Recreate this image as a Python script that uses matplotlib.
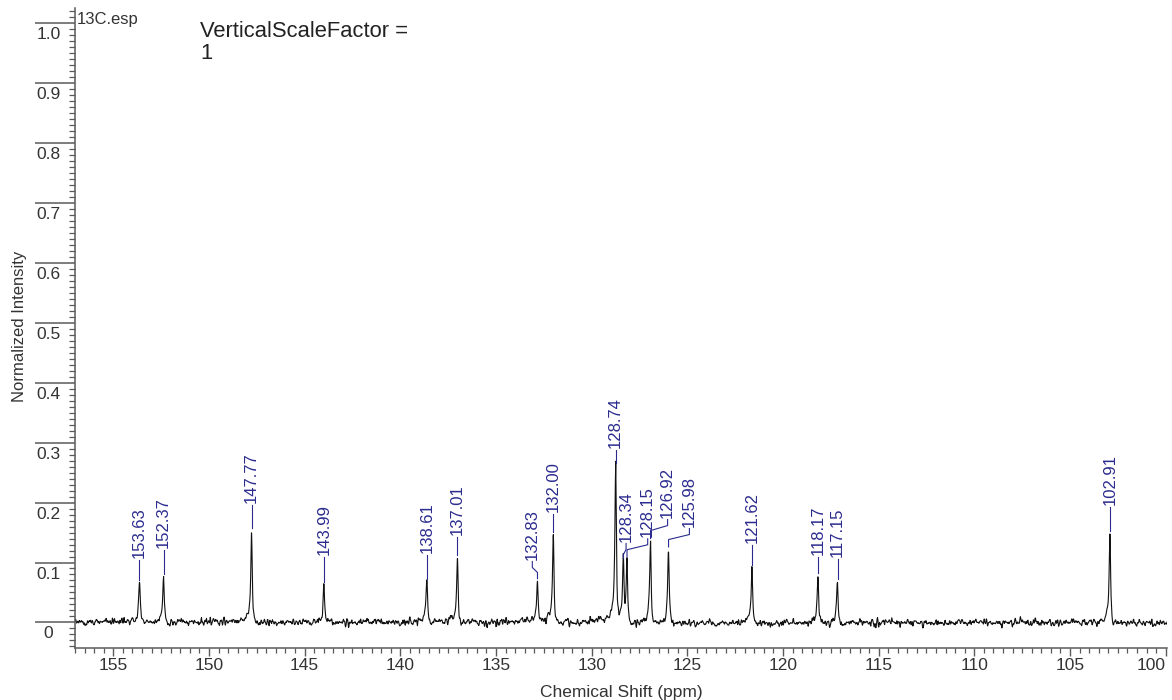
import numpy as np
import matplotlib
matplotlib.use("Agg")
import matplotlib.pyplot as plt
from matplotlib.ticker import FixedLocator, FixedFormatter, MultipleLocator, NullFormatter
from matplotlib.transforms import offset_copy

plt.rcParams['font.family'] = ['Liberation Sans', 'DejaVu Sans']

# 13C peak list: chemical shift (ppm) and normalized peak height
peak_ppm = [153.63, 152.37, 147.77, 143.99, 138.61, 137.01, 132.83, 132.00,
            128.74, 128.34, 128.15, 126.92, 125.98, 121.62, 118.17, 117.15, 102.91]
peak_height = [0.066, 0.076, 0.152, 0.063, 0.068, 0.108, 0.068, 0.146,
               0.261, 0.102, 0.105, 0.135, 0.121, 0.091, 0.077, 0.068, 0.148]
peak_labels = [f"{p:.2f}" for p in peak_ppm]

# where each peak annotation sits (ppm of the label, intensity of its lower end)
label_ppm = [153.63, 152.37, 147.77, 143.99, 138.61, 137.01, 133.10, 132.00,
             128.74, 128.20, 127.07, 126.03, 124.89, 121.62, 118.17, 117.15, 102.91]
label_base = [0.108, 0.125, 0.200, 0.113, 0.116, 0.146, 0.105, 0.185,
              0.291, 0.135, 0.143, 0.175, 0.160, 0.133, 0.113, 0.110, 0.196]

x_ticks = [155, 150, 145, 140, 135, 130, 125, 120, 115, 110, 105, 100]
x_tick_labels = [str(v) for v in x_ticks]
y_ticks = [0.0, 0.1, 0.2, 0.3, 0.4, 0.5, 0.6, 0.7, 0.8, 0.9, 1.0]
y_tick_labels = ['0', '0.1', '0.2', '0.3', '0.4', '0.5', '0.6', '0.7', '0.8', '0.9', '1.0']

XLIM = (157.0, 99.93)
YLIM = (-0.0427, 1.0255)

axis_col = '#5a5a5a'
text_col = '#333333'
label_col = '#2b2b8f'

# spectrum trace: Lorentzian lines with a slight phase (dispersive) component
x = np.linspace(XLIM[0], XLIM[1], 2600)
x = np.unique(np.concatenate([x, peak_ppm]))[::-1]
hw = 0.045
y = np.zeros_like(x)
for p, h in zip(peak_ppm, peak_height):
    d = x - p
    y += h * hw**2 / (d**2 + hw**2) + 0.15 * h * d * hw / (d**2 + hw**2)
rng = np.random.default_rng(11)
noise = np.convolve(rng.normal(0, 0.0046, x.size), [0.25, 0.5, 0.25], mode='same')
y = y + noise

fig = plt.figure(figsize=(11.72, 7.0), dpi=100)
ax = fig.add_axes([75 / 1172, 52 / 700, 1092 / 1172, 640 / 700])
ax.plot(x, y, color='#111111', lw=0.8)
ax.set_xlim(*XLIM)
ax.set_ylim(*YLIM)

for s in ['top', 'right']:
    ax.spines[s].set_visible(False)
for s in ['left', 'bottom']:
    ax.spines[s].set_color(axis_col)
    ax.spines[s].set_linewidth(1.1)

ax.xaxis.set_major_locator(FixedLocator(x_ticks))
ax.xaxis.set_major_formatter(FixedFormatter(x_tick_labels))
ax.xaxis.set_minor_locator(MultipleLocator(0.5))
ax.tick_params(axis='x', which='major', direction='out', length=6, width=1.0,
               colors=axis_col, labelcolor=text_col, labelsize=12.5, pad=1.5)
ax.tick_params(axis='x', which='minor', direction='out', length=3.6, width=0.9, colors=axis_col)
# the last label is kept inside the figure edge
ax.get_xticklabels()[-1].set_horizontalalignment('right')
ax.get_xticklabels()[-1].set_x(100)

ax.yaxis.set_major_locator(FixedLocator(y_ticks))
ax.yaxis.set_major_formatter(NullFormatter())
ax.yaxis.set_minor_locator(MultipleLocator(0.01))
ax.tick_params(axis='y', which='major', direction='out', length=29, width=1.1, colors=axis_col)
ax.tick_params(axis='y', which='minor', direction='out', length=4.3, width=0.9, colors=axis_col)

# y tick labels sit just below their long tick lines
lab_tr = offset_copy(ax.get_yaxis_transform(), fig=fig, x=-26.5, y=-11.5, units='dots')
for v, s in zip(y_ticks, y_tick_labels):
    ax.text(0, v, s, transform=lab_tr, ha='center', va='center', fontsize=12.5,
            color=text_col, clip_on=False)

# peak annotations with leader lines
int_px = (YLIM[1] - YLIM[0]) / 640
for p, h, lab, lx, ly in zip(peak_ppm, peak_height, peak_labels, label_ppm, label_base):
    ax.text(lx, ly, lab, rotation=90, ha='center', va='bottom', fontsize=12,
            color=label_col)
    start = ly - 2 * int_px
    top = h + 3 * int_px
    if abs(lx - p) < 1e-9:
        ax.plot([p, p], [start, top], color=label_col, lw=0.8)
    else:
        ax.plot([lx, lx, p, p],
                [start, start - 6 * int_px, start - 11 * int_px, top],
                color=label_col, lw=0.8)

fig.text(621 / 1172, 1 - 692 / 700, 'Chemical Shift (ppm)', ha='center', va='center',
         fontsize=12.5, color=text_col)
fig.text(20 / 1172, 1 - 326 / 700, 'Normalized Intensity', rotation=90, ha='center',
         va='center', fontsize=12, color=text_col)
fig.text(77 / 1172, 1 - 12 / 700, '13C.esp', ha='left', va='top', fontsize=12, color=text_col)
fig.text(200 / 1172, 1 - 21 / 700, 'VerticalScaleFactor =', ha='left', va='top',
         fontsize=15.8, color='#222222')
fig.text(200 / 1172, 1 - 43 / 700, '1', ha='left', va='top', fontsize=15.8, color='#222222')

fig.savefig('out.png', dpi=100)
